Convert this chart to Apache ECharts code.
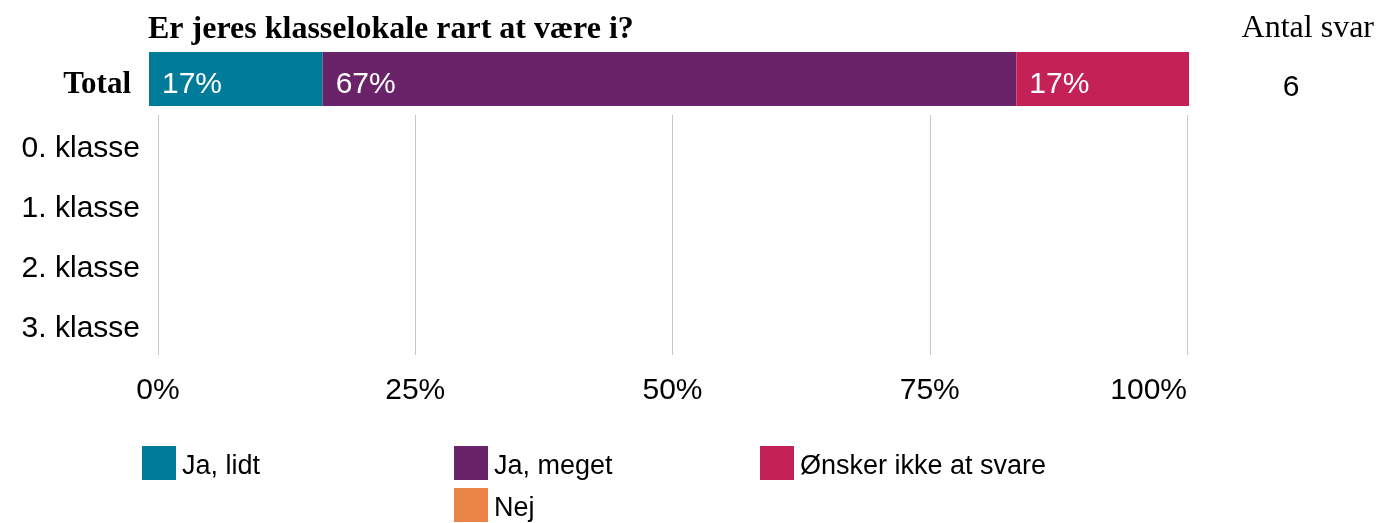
<!DOCTYPE html>
<html><head><meta charset="utf-8">
<script src="https://cdn.jsdelivr.net/npm/echarts@6/dist/echarts.min.js"></script>
<style>html,body{margin:0;padding:0;background:#fff}#c{width:1380px;height:523px}</style>
</head><body><div id="c"></div>
<script>
const titleText = 'Er jeres klasselokale rart at være i?';
const countTitle = 'Antal svar';
const totalCount = '6';
const totalCategory = ['Total'];
const classCategories = ['0. klasse', '1. klasse', '2. klasse', '3. klasse'];
const seriesNames = ['Ja, lidt', 'Ja, meget', 'Ønsker ikke at svare', 'Nej'];
const seriesColors = ['#007B99', '#6A2268', '#C42157', '#EA8446'];
const totalValues = [16.7, 66.7, 16.7, 0];
const classValues = [
  [null, null, null, null],
  [null, null, null, null],
  [null, null, null, null],
  [null, null, null, null]
];
const xTicks = [0, 25, 50, 75, 100];

const SANS = 'Liberation Sans, Arial, sans-serif';
const SERIF = 'Liberation Serif, Times New Roman, serif';

const series = [];
seriesNames.forEach((name, i) => {
  series.push({
    name, type: 'bar', stack: 'total', xAxisIndex: 0, yAxisIndex: 0,
    barWidth: '100%', itemStyle: { color: seriesColors[i] },
    label: {
      show: true, position: 'insideLeft', distance: 13, color: '#fff',
      fontFamily: SANS, fontSize: 30, offset: [0, 6],
      formatter: p => p.value > 0 ? Math.round(p.value) + '%' : ''
    },
    data: [totalValues[i]]
  });
  series.push({
    name, type: 'bar', stack: 'classes', xAxisIndex: 1, yAxisIndex: 1,
    barWidth: '70%', itemStyle: { color: seriesColors[i] },
    data: classValues[i]
  });
});

const legendPos = [[142, 446], [454, 446], [760, 446], [454, 488]];
const legends = seriesNames.map((n, i) => ({
  data: [n], left: legendPos[i][0], top: legendPos[i][1], padding: 0,
  icon: 'rect', itemWidth: 34, itemHeight: 34, itemGap: 0,
  formatter: name => '{t|' + name + '}',
  textStyle: { fontFamily: SANS, fontSize: 27, color: '#000',
    rich: { t: { fontFamily: SANS, fontSize: 27, color: '#000', padding: [8, 0, 0, 1] } } },
  selectedMode: false
}));

const chart = echarts.init(document.getElementById('c'));
chart.setOption({
  animation: false,
  color: seriesColors,
  title: [
    { text: titleText, left: 148, top: 14, padding: 0,
      textStyle: { fontFamily: SERIF, fontWeight: 'bold', fontSize: 32, color: '#000' } },
    { text: countTitle, right: 6, top: 13, padding: 0,
      textStyle: { fontFamily: SERIF, fontWeight: 'normal', fontSize: 32, color: '#000' } },
    { text: totalCount, left: 1291, top: 73, textAlign: 'center', padding: 0,
      textStyle: { fontFamily: SANS, fontWeight: 'normal', fontSize: 30, color: '#000' } }
  ],
  legend: legends,
  grid: [
    { left: 149, right: 191, top: 52, height: 54, containLabel: false },
    { left: 158, right: 193, top: 115, height: 240, containLabel: false }
  ],
  xAxis: [
    { gridIndex: 0, type: 'value', min: 0, max: 100, show: false },
    { gridIndex: 1, type: 'value', min: 0, max: 100, interval: 25,
      axisLine: { show: false }, axisTick: { show: false },
      splitLine: { show: true, lineStyle: { color: '#c8c8c8', width: 1 } },
      axisLabel: { margin: 21, fontFamily: SANS, fontSize: 30, color: '#000',
        alignMaxLabel: 'right',
        formatter: v => xTicks.includes(v) ? v + '%' : '' } }
  ],
  yAxis: [
    { gridIndex: 0, type: 'category', data: totalCategory,
      axisLine: { show: false }, axisTick: { show: false },
      axisLabel: { margin: 18, fontFamily: SERIF, fontWeight: 'bold', fontSize: 31, color: '#000',
        verticalAlign: 'top', lineHeight: 12 } },
    { gridIndex: 1, type: 'category', data: classCategories, inverse: true,
      axisLine: { show: false }, axisTick: { show: false },
      axisLabel: { margin: 18, fontFamily: SANS, fontSize: 30, color: '#000',
        verticalAlign: 'top', lineHeight: 8 } }
  ],
  series
});
</script></body></html>
